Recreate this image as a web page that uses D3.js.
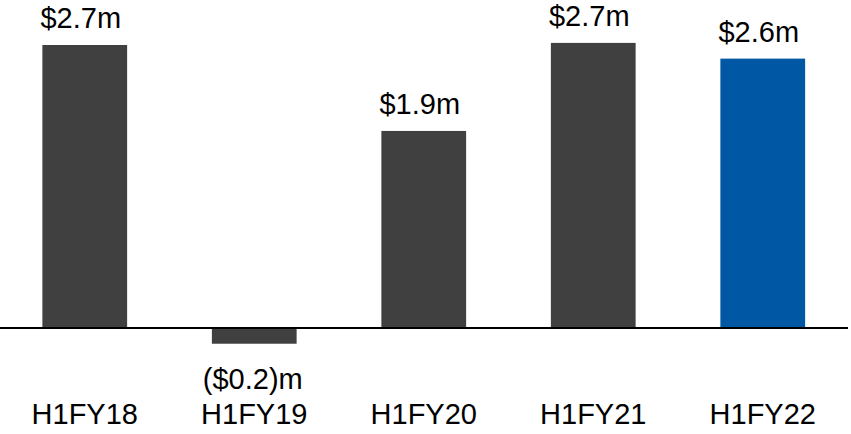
<!DOCTYPE html>
<html>
<head>
<meta charset="utf-8">
<script src="https://cdn.jsdelivr.net/npm/d3@7"></script>
<style>
  html, body { margin: 0; padding: 0; background: #fff; }
  svg { display: block; }
  text { font-family: "Liberation Sans", Arial, sans-serif; fill: #000; }
</style>
</head>
<body>
<div id="chart"></div>
<script>
const categories = ["H1FY18", "H1FY19", "H1FY20", "H1FY21", "H1FY22"];
const values = [2.70, -0.15, 1.88, 2.72, 2.57];
const valueLabels = ["$2.7m", "($0.2)m", "$1.9m", "$2.7m", "$2.6m"];
const barColors = ["#404040", "#404040", "#404040", "#404040", "#0057A4"];

const width = 851, height = 434;
const svg = d3.select("#chart").append("svg")
  .attr("width", width).attr("height", height);

const x = d3.scaleBand()
  .domain(categories)
  .range([0, 847.5])
  .paddingInner(0.5)
  .paddingOuter(0.25);

const y = d3.scaleLinear()
  .domain([0, 2.7])
  .range([328, 45]);

const data = categories.map((c, i) => ({ c, v: values[i], label: valueLabels[i], color: barColors[i] }));

svg.selectAll("rect.bar")
  .data(data)
  .enter().append("rect")
  .attr("class", "bar")
  .attr("x", d => x(d.c))
  .attr("width", x.bandwidth())
  .attr("y", d => Math.min(y(d.v), y(0)))
  .attr("height", d => Math.abs(y(d.v) - y(0)))
  .attr("fill", d => d.color);

// baseline
svg.append("line")
  .attr("x1", 0).attr("x2", 848)
  .attr("y1", y(0)).attr("y2", y(0))
  .attr("stroke", "#000")
  .attr("stroke-width", 2);

// value labels
svg.selectAll("text.val")
  .data(data)
  .enter().append("text")
  .attr("class", "val")
  .attr("x", d => x(d.c) + x.bandwidth() / 2)
  .attr("dx", d => d.v >= 0 ? -4 : -1.5)
  .attr("y", d => d.v >= 0 ? y(d.v) - 17 : y(d.v) + 45)
  .attr("text-anchor", "middle")
  .style("font-size", "29px")
  .text(d => d.label);

// category axis labels
const xAxis = d3.axisBottom(x).tickSize(0).tickPadding(0);
const gx = svg.append("g")
  .attr("transform", "translate(0,403)")
  .call(xAxis);
gx.select(".domain").remove();
gx.selectAll("text")
  .attr("dy", "0.71em")
  .attr("y", 0)
  .style("font-size", "29px")
  .style("font-family", "'Liberation Sans', Arial, sans-serif")
  .attr("fill", "#000");
</script>
</body>
</html>
